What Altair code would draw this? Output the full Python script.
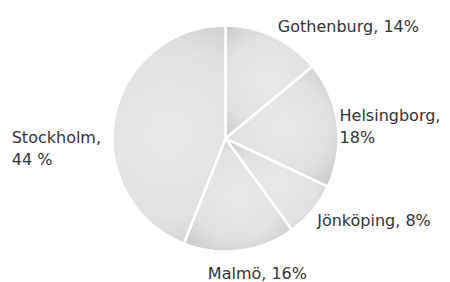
import altair as alt
import pandas as pd

cities = ["Gothenburg", "Helsingborg", "Jönköping", "Malmö", "Stockholm"]
shares = [14, 18, 8, 16, 44]
labels = ["Gothenburg, 14%", "Helsingborg,\n18%", "Jönköping, 8%", "Malmö, 16%", "Stockholm,\n44 %"]

df = pd.DataFrame({"city": cities, "share": shares, "label": labels, "idx": list(range(len(cities)))})

# label placement style: align, radius, dx, dy
label_style = {
    "Gothenburg": ("left", 123, 0, 0),
    "Helsingborg": ("left", 121, -6, -7),
    "Jönköping": ("left", 119, 0, 7),
    "Malmö": ("center", 135, 15, 2),
    "Stockholm": ("left", 125, -91, 23),
}

W, H = 420, 261
R = 113

fill = {
    "gradient": "radial",
    "stops": [
        {"offset": 0, "color": "#e8eae8"},
        {"offset": 0.55, "color": "#e1e2e1"},
        {"offset": 1, "color": "#c2c2c2"},
    ],
    "x1": 0.5, "y1": 0.5, "r1": 0,
    "x2": 0.5, "y2": 0.5, "r2": 0.7,
}

base = alt.Chart(df)

pie = base.mark_arc(outerRadius=R, stroke="white", strokeWidth=2.5, fill=fill).encode(
    theta=alt.Theta("share:Q", stack=True),
    order=alt.Order("idx:Q"),
)

layers = [pie]
for c in cities:
    align, rad, dx, dy = label_style[c]
    t = base.transform_calculate(
        lab=f"datum.city == '{c}' ? datum.label : ''"
    ).mark_text(
        radius=rad, align=align, baseline="middle", dx=dx, dy=dy,
        font="DejaVu Sans", fontSize=16, color="#333333", lineBreak="\n", lineHeight=22,
    ).encode(
        theta=alt.Theta("share:Q", stack=True),
        order=alt.Order("idx:Q"),
        text="lab:N",
    )
    layers.append(t)

chart = alt.layer(*layers).properties(
    width=W, height=H,
    autosize=alt.AutoSizeParams(type="none"),
    padding={"left": 7.5, "top": 0, "right": 6.5, "bottom": 20},
).configure_view(stroke=None)

chart.save("out.html", embed_options={"renderer": "svg", "actions": False})
